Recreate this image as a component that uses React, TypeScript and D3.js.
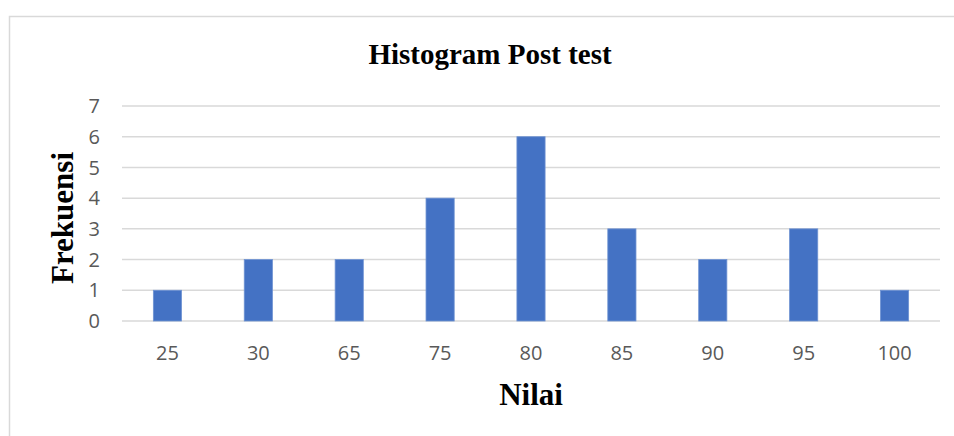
import React from "react";
import * as d3 from "d3";

const categories = ["25", "30", "65", "75", "80", "85", "90", "95", "100"];
const frequencies = [1, 2, 2, 4, 6, 3, 2, 3, 1];
const yTicks = [0, 1, 2, 3, 4, 5, 6, 7];

const width = 954;
const height = 436;
const plot = { left: 122, right: 940, top: 106, bottom: 321 };

export default function App() {
  const x = d3
    .scaleBand()
    .domain(categories)
    .range([plot.left, plot.right])
    .paddingInner(0.69)
    .paddingOuter(0.345);

  const y = d3.scaleLinear().domain([0, 7]).range([plot.bottom, plot.top]);

  const tickFont = "'Open Sans', 'Noto Sans', sans-serif";
  const serif = "'Liberation Serif', 'DejaVu Serif', serif";

  return (
    <svg
      width={width}
      height={height}
      style={{ position: "absolute", left: 0, top: 0, background: "#fff" }}
    >
      {/* chart border, runs off the right and bottom edges */}
      <rect
        x={9.5}
        y={16.5}
        width={width + 20}
        height={height + 20}
        fill="#fff"
        stroke="#d9d9d9"
        strokeWidth={1.5}
      />

      <text
        x={490}
        y={64}
        textAnchor="middle"
        fontFamily={serif}
        fontWeight="bold"
        fontSize={29}
        fill="#000"
      >
        Histogram Post test
      </text>

      {/* gridlines */}
      {yTicks.map((t) => (
        <line
          key={"g" + t}
          x1={plot.left}
          x2={plot.right}
          y1={y(t)}
          y2={y(t)}
          stroke="#d9d9d9"
          strokeWidth={1.5}
        />
      ))}

      {yTicks.map((t) => (
        <text
          key={"yt" + t}
          x={100}
          y={y(t)}
          dy="0.36em"
          textAnchor="end"
          fontFamily={tickFont}
          fontSize={20}
          fill="#595959"
        >
          {t}
        </text>
      ))}

      {/* bars */}
      {categories.map((c, i) => (
        <rect
          key={c}
          x={x(c)}
          y={y(frequencies[i])}
          width={x.bandwidth()}
          height={plot.bottom - y(frequencies[i])}
          fill="#4472c4"
          stroke="#6f93d3"
          strokeWidth={0.8}
        />
      ))}

      {categories.map((c) => (
        <text
          key={"xt" + c}
          x={(x(c) ?? 0) + x.bandwidth() / 2}
          y={353}
          dy="0.36em"
          textAnchor="middle"
          fontFamily={tickFont}
          fontSize={20}
          fill="#595959"
        >
          {c}
        </text>
      ))}

      <text
        x={531}
        y={405}
        textAnchor="middle"
        fontFamily={serif}
        fontWeight="bold"
        fontSize={31}
        fill="#000"
      >
        Nilai
      </text>

      <text
        transform={`translate(73, 218) rotate(-90)`}
        textAnchor="middle"
        fontFamily={serif}
        fontWeight="bold"
        fontSize={31}
        fill="#000"
      >
        Frekuensi
      </text>
    </svg>
  );
}
